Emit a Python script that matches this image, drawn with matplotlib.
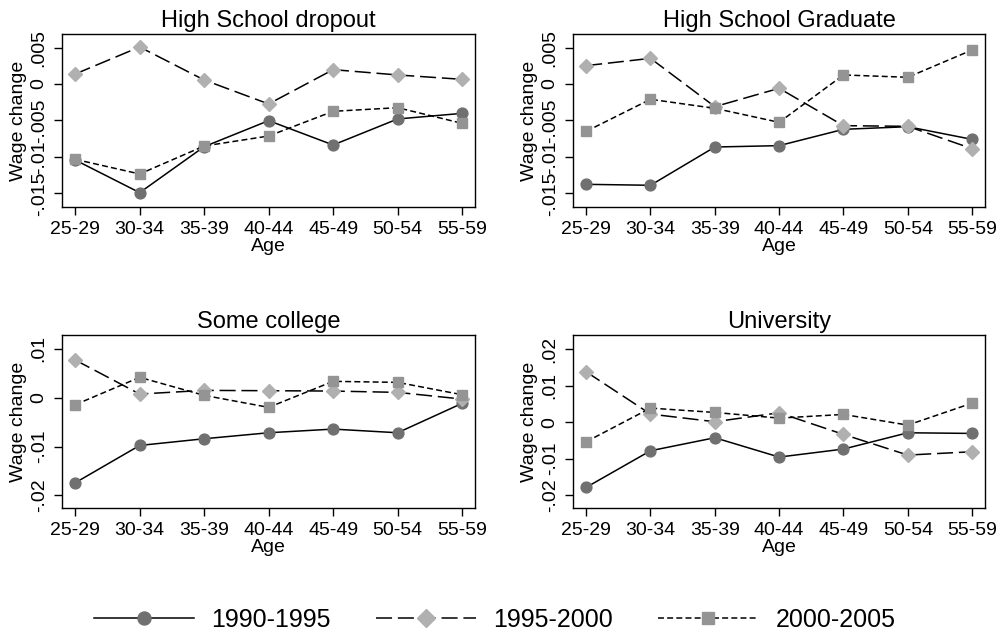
import matplotlib
matplotlib.use("Agg")
import matplotlib.pyplot as plt
from matplotlib.ticker import FixedLocator, FixedFormatter

plt.rcParams['font.family'] = ['Liberation Sans', 'DejaVu Sans']

ages = ["25-29", "30-34", "35-39", "40-44", "45-49", "50-54", "55-59"]
series_names = ["1990-1995", "1995-2000", "2000-2005"]

titles = ["High School dropout", "High School Graduate", "Some college", "University"]

dropout_9095 = [-0.01043, -0.01491, -0.0086, -0.00503, -0.00837, -0.0048, -0.00403]
dropout_9500 = [0.00137, 0.00508, 0.00055, -0.00274, 0.00197, 0.00124, 0.00064]
dropout_0005 = [-0.01034, -0.01235, -0.00851, -0.00714, -0.00375, -0.00325, -0.0054]

hsgrad_9095 = [-0.01377, -0.0139, -0.00865, -0.00846, -0.00622, -0.00586, -0.0076]
hsgrad_9500 = [0.00252, 0.00352, -0.00311, -0.00059, -0.00572, -0.00581, -0.00888]
hsgrad_0005 = [-0.0065, -0.0021, -0.00334, -0.00526, 0.00124, 0.00092, 0.00467]

somecol_9095 = [-0.01742, -0.00977, -0.0084, -0.00717, -0.00642, -0.00717, -0.00115]
somecol_9500 = [0.00773, 0.00076, 0.00151, 0.00144, 0.00137, 0.0011, -0.00027]
somecol_0005 = [-0.00143, 0.00418, 0.00049, -0.00197, 0.00336, 0.00315, 0.00062]

univ_9095 = [-0.01786, -0.00784, -0.00428, -0.00957, -0.00738, -0.00292, -0.0031]
univ_9500 = [0.01376, 0.00219, 0.0001, 0.00255, -0.00337, -0.00902, -0.00811]
univ_0005 = [-0.00538, 0.00383, 0.00264, 0.00109, 0.0021, -0.00082, 0.00519]

yticks_top = [-0.015, -0.01, -0.005, 0, 0.005]
yticklabels_top = ["-.015", "-.01", "-.005", "0", ".005"]
yticks_sc = [-0.02, -0.01, 0, 0.01]
yticklabels_sc = ["-.02", "-.01", "0", ".01"]
yticks_un = [-0.02, -0.01, 0, 0.01, 0.02]
yticklabels_un = ["-.02", "-.01", "0", ".01", ".02"]

panels = [
    (titles[0], dropout_9095, dropout_9500, dropout_0005, yticks_top, yticklabels_top, (-0.01684, 0.00682)),
    (titles[1], hsgrad_9095, hsgrad_9500, hsgrad_0005, yticks_top, yticklabels_top, (-0.01684, 0.00682)),
    (titles[2], somecol_9095, somecol_9500, somecol_0005, yticks_sc, yticklabels_sc, (-0.02248, 0.01279)),
    (titles[3], univ_9095, univ_9500, univ_0005, yticks_un, yticklabels_un, (-0.02345, 0.02375)),
]

W, H = 1003, 639
fig = plt.figure(figsize=(W / 100, H / 100), dpi=100)

boxes = [
    (62.3, 34.3, 475.0, 206.7),
    (573.3, 34.3, 985.0, 206.7),
    (62.3, 335.3, 475.0, 507.5),
    (573.3, 335.3, 985.0, 507.8),
]

styles = [
    dict(color="black", linestyle="-", marker="o", markerfacecolor="#707070",
         markeredgecolor="#707070", markersize=7.8, linewidth=1.1),
    dict(color="black", linestyle=(0, (10.5, 3.8)), marker="D", markerfacecolor="#b0b0b0",
         markeredgecolor="#b0b0b0", markersize=7.4, linewidth=1.1),
    dict(color="black", linestyle=(0, (3.9, 2.1)), marker="s", markerfacecolor="#949494",
         markeredgecolor="#949494", markersize=7.6, linewidth=1.1),
]

x = list(range(len(ages)))
handles = []
for (title, s1, s2, s3, yt, ytl, ylim), (l, t, r, b) in zip(panels, boxes):
    ax = fig.add_axes([l / W, 1 - b / H, (r - l) / W, (b - t) / H])
    hs = []
    for vals, st, name in zip([s1, s2, s3], styles, series_names):
        h, = ax.plot(x, vals, label=name, **st)
        hs.append(h)
    handles = hs
    ax.set_xlim(-0.2, 6.2)
    ax.set_ylim(*ylim)
    ax.set_xticks(x)
    ax.set_xticklabels(ages, fontsize=14)
    ax.yaxis.set_major_locator(FixedLocator(yt))
    ax.yaxis.set_major_formatter(FixedFormatter(ytl))
    for lab in ax.get_yticklabels():
        lab.set_rotation(90)
        lab.set_verticalalignment("center")
        lab.set_fontsize(14)
    ax.tick_params(axis="both", direction="out", length=6, width=1.0, pad=4.5, colors="black")
    ax.set_title(title, fontsize=17, pad=5)
    ax.set_xlabel("Age", fontsize=14, labelpad=0)
    ax.set_ylabel("Wage change", fontsize=14, labelpad=3)
    for sp in ax.spines.values():
        sp.set_linewidth(1.0)
        sp.set_color("black")

fig.legend(handles, series_names, loc="center", bbox_to_anchor=(495 / W, 1 - 620 / H),
           ncol=3, frameon=False, fontsize=18, handlelength=4.0, handletextpad=0.7,
           columnspacing=1.8, numpoints=1, markerscale=1.2)

fig.savefig("out.png", dpi=100)
